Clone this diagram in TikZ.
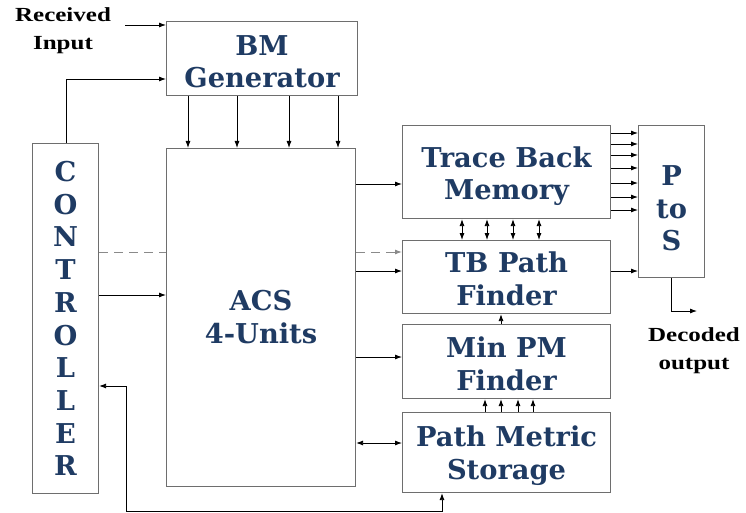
\documentclass[tikz,border=0pt]{standalone}
\usepackage{fontspec}
\usetikzlibrary{arrows.meta}
\newfontfamily\bluefont{DejaVu Serif}
\newfontfamily\blackfont{Liberation Serif}[FakeStretch=1.25]
\definecolor{navy}{HTML}{1F3B63}
\definecolor{boxgray}{HTML}{6E6E6E}
\definecolor{dashgray}{HTML}{8A8A8A}
\tikzset{
  box/.style={draw=boxgray, line width=1.1pt, anchor=north west, inner sep=0pt},
  txt/.style={align=center, text=navy, inner sep=0pt,
    font=\bluefont\bfseries\fontsize{27.3}{32.5}\selectfont},
  lbl/.style={align=center, font=\blackfont\bfseries\fontsize{20}{28}\selectfont, inner sep=0pt},
  tip/.tip={Latex[length=7pt,width=5pt]},
  arr/.style={line width=0.85pt, -tip},
  darr/.style={line width=0.85pt, tip-tip},
  dsh/.style={line width=1pt, draw=dashgray, dash pattern=on 9pt off 6pt},
}
\begin{document}
\begin{tikzpicture}[x=1pt,y=-1pt]
\useasboundingbox (0,0) rectangle (746,513);
% boxes
\node[box, minimum width=191pt, minimum height=74pt] (bm) at (166,21) {};
\node[box, minimum width=189pt, minimum height=338pt] (acs) at (166,148) {};
\node[box, minimum width=66pt, minimum height=350pt] (ctrl) at (32,143) {};
\node[box, minimum width=208pt, minimum height=93pt] (tbm) at (402,125) {};
\node[box, minimum width=208pt, minimum height=73pt] (tbpf) at (402,240) {};
\node[box, minimum width=208pt, minimum height=74pt] (minpm) at (402,324) {};
\node[box, minimum width=208pt, minimum height=80pt] (pms) at (402,412) {};
\node[box, minimum width=66pt, minimum height=152pt] (pts) at (638,125) {};
% box texts
\node[txt] (bmt) at ([yshift=-3pt]bm.center) {BM\\Generator};
\node[txt] (acst) at ([yshift=0.5pt]acs.center) {ACS\\4-Units};
\node[txt, font=\bluefont\bfseries\fontsize{27.3}{32.7}\selectfont] (ctrlt) at (ctrl.center) {C\\O\\N\\T\\R\\O\\L\\L\\E\\R};
\node[txt] (tbmt) at ([yshift=-4pt]tbm.center) {Trace Back\\Memory};
\node[txt] (tbpft) at ([yshift=-2pt]tbpf.center) {TB Path\\Finder};
\node[txt] (minpmt) at ([yshift=-2.5pt]minpm.center) {Min PM\\Finder};
\node[txt] (pmst) at ([yshift=-3pt]pms.center) {Path Metric\\Storage};
\node[txt] (ptst) at ([yshift=-7pt]pts.center) {P\\to\\S};
% labels
\node[lbl] (rin) at (63,31) {Received\\Input};
\node[lbl] (dout) at (694,351) {Decoded\\output};
\coordinate (rinend) at (125,25);
\coordinate (doutend) at (697,311);
% received input
\draw[arr] (rinend) -- (bm.west |- rinend);
% controller to BM
\draw[arr] (ctrl.north -| 66,0) |- (bm.west |- 0,79);
% BM to ACS
\foreach \x in {188,237,289,338} \draw[arr] (bm.south -| \x,0) -- (acs.north -| \x,0);
% dashed
\draw[dsh] (ctrl.east |- 0,252) -- (acs.west |- 0,252);
\draw[dsh, -tip] (acs.east |- 0,252) -- (tbpf.west |- 0,252);
% controller to ACS
\draw[arr] (ctrl.east |- 0,295) -- (acs.west |- 0,295);
% ACS outputs
\draw[arr] (acs.east |- 0,184) -- (tbm.west |- 0,184);
\draw[arr] (acs.east |- 0,271) -- (tbpf.west |- 0,271);
\draw[arr] (acs.east |- 0,357) -- (minpm.west |- 0,357);
\draw[darr] (acs.east |- 0,443) -- (pms.west |- 0,443);
% TBM <-> TBPF
\foreach \x in {462,487,513,539} \draw[darr] (tbm.south -| \x,0) -- (tbpf.north -| \x,0);
% MinPM -> TBPF
\draw[arr] (minpm.north -| 501,0) -- (tbpf.south -| 501,0);
% PMS -> MinPM
\foreach \x in {485,501,518,533} \draw[arr] (pms.north -| \x,0) -- (minpm.south -| \x,0);
% TBM -> PtoS
\foreach \y in {133,144,155,168,183,197,210} \draw[arr] (tbm.east |- 0,\y) -- (pts.west |- 0,\y);
% TBPF -> PtoS
\draw[arr] (tbpf.east |- 0,271) -- (pts.west |- 0,271);
% output
\draw[arr] (pts.south -| 671,0) |- (doutend);
% feedback
\draw[darr] (ctrl.east |- 0,386) -| (126,511) -| (pms.south -| 442,0);
\end{tikzpicture}
\end{document}
